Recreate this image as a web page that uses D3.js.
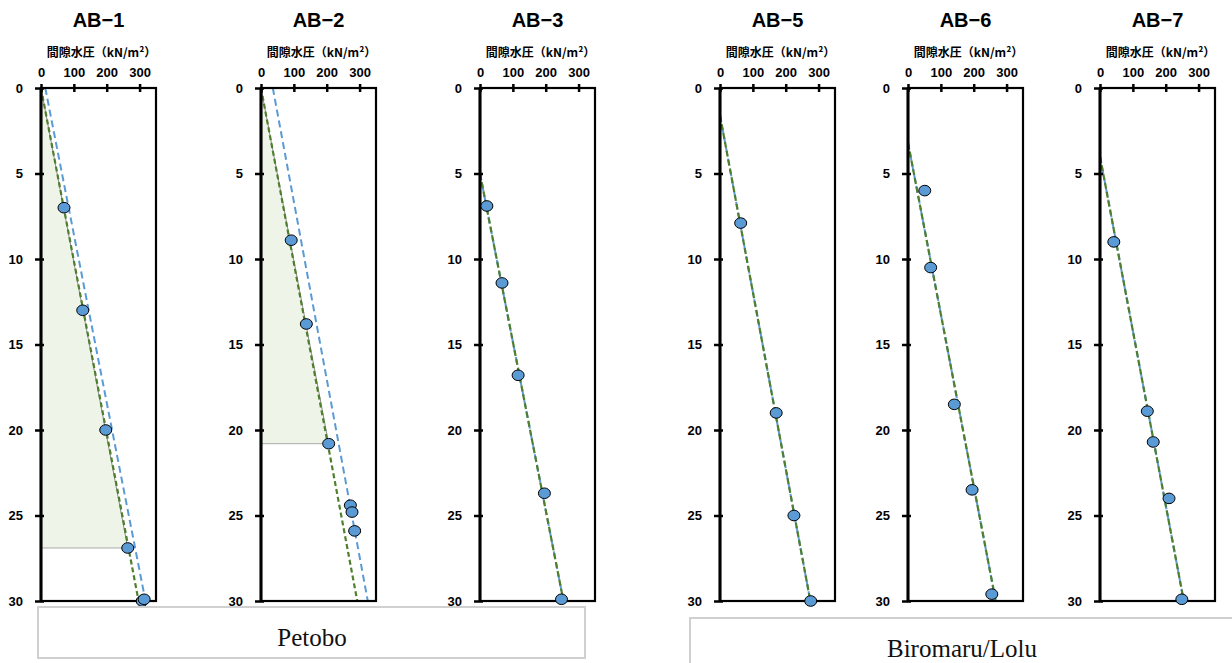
<!DOCTYPE html>
<html>
<head>
<meta charset="utf-8">
<script src="https://cdn.jsdelivr.net/npm/d3@7"></script>
<style>
  body { margin: 0; background: #fff; }
</style>
</head>
<body>
<div id="chart"></div>
<script>
var svgWidth = 1232;
var svgHeight = 663;

// data
var panelNames = ["AB-1", "AB-2", "AB-3", "AB-5", "AB-6", "AB-7"];
var depthTicks = [0, 5, 10, 15, 20, 25, 30];
var pressureTicks = [0, 100, 200, 300];
var axisLabel = "間隙水圧（kN/m²）";
var groupNames = ["Petobo", "Biromaru/Lolu"];

// measured points: depth (m), pore pressure (kN/m2)
var ab1Depth = [7.0, 13.0, 20.0, 26.9, 30.0, 29.9];
var ab1Pressure = [70, 127, 197, 264, 308, 314];
var ab2Depth = [8.9, 13.8, 20.8, 24.4, 24.8, 25.9];
var ab2Pressure = [92, 138, 206, 272, 277, 285];
var ab3Depth = [6.9, 11.4, 16.8, 23.7, 29.9];
var ab3Pressure = [21, 67, 116, 196, 248];
var ab5Depth = [7.9, 19.0, 25.0, 30.0];
var ab5Pressure = [63, 171, 225, 276];
var ab6Depth = [6.0, 10.5, 18.5, 23.5, 29.6];
var ab6Pressure = [51, 69, 141, 195, 255];
var ab7Depth = [9.0, 18.9, 20.7, 24.0, 29.9];
var ab7Pressure = [42, 144, 162, 210, 249];

// trend lines as [depth, pressure] end points
var greenLines = [
  [[0, 0], [30, 297]],
  [[0, 0], [30, 293]],
  [[5.0, 0], [30, 254]],
  [[1.6, 0], [30, 275]],
  [[3.2, 0], [30, 267]],
  [[4.0, 0], [30, 255]]
];
var blueLines = [
  [[0, 13], [30, 318]],
  [[0, 36], [30, 325]],
  [[5.0, 0], [30, 254]],
  [[1.6, 0], [30, 275]],
  [[3.2, 0], [30, 267]],
  [[4.0, 0], [30, 255]]
];
// shaded wedge (only Petobo AB-1, AB-2)
var shadeAreas = [
  [[0, 0], [26.9, 264], [26.9, 0]],
  [[0, 0], [20.8, 206], [20.8, 0]],
  null, null, null, null
];

var pointDepths = [ab1Depth, ab2Depth, ab3Depth, ab5Depth, ab6Depth, ab7Depth];
var pointPressures = [ab1Pressure, ab2Pressure, ab3Pressure, ab5Pressure, ab6Pressure, ab7Pressure];

// layout
var panelLeft = [41, 261, 480, 720, 908, 1100];
var panelWidth = 115;
var plotTop = 88;
var plotBottom = 601;
var sans = "'Liberation Sans', Arial, sans-serif";

var svg = d3.select("#chart").append("svg")
  .attr("width", svgWidth)
  .attr("height", svgHeight);

var yScale = d3.scaleLinear().domain([0, 30]).range([plotTop, plotBottom]);

panelNames.forEach(function(name, i) {
  var left = panelLeft[i];
  var xScale = d3.scaleLinear().domain([0, 350]).range([left, left + panelWidth]);
  var g = svg.append("g").attr("class", "panel");
  var cx = left + panelWidth / 2;

  // title
  g.append("text")
    .attr("x", cx)
    .attr("y", 27)
    .attr("text-anchor", "middle")
    .style("font-family", sans)
    .style("font-size", "20px")
    .style("font-weight", "bold")
    .text(name.replace("-", "\u2212"));

  g.append("text")
    .attr("x", cx + 3)
    .attr("y", 57)
    .attr("text-anchor", "middle")
    .style("font-family", "'Noto Sans CJK JP', sans-serif")
    .style("font-size", "12px")
    .style("font-weight", "bold")
    .text(axisLabel);

  var line = d3.line().x(d => xScale(d[1])).y(d => yScale(d[0]));

  // shaded wedge
  var shade = shadeAreas[i];
  if (shade) {
    g.append("path")
      .attr("d", line(shade) + "Z")
      .attr("fill", "#eef5e8")
      .attr("stroke", "none");
    g.append("path")
      .attr("d", line(shade.slice(0, 2)))
      .attr("fill", "none")
      .attr("stroke", "#888")
      .attr("stroke-width", 1);
    g.append("path")
      .attr("d", line(shade.slice(1)))
      .attr("fill", "none")
      .attr("stroke", "#aaa")
      .attr("stroke-width", 1);
  }

  // blue dashed line
  g.append("path")
    .attr("d", line(blueLines[i]))
    .attr("fill", "none")
    .attr("stroke", "#5b9bd5")
    .attr("stroke-width", 2)
    .attr("stroke-dasharray", "7,4");

  // green dashed line
  g.append("path")
    .attr("d", line(greenLines[i]))
    .attr("fill", "none")
    .attr("stroke", "#4f7f2e")
    .attr("stroke-width", 2.2)
    .attr("stroke-dasharray", i < 2 ? "5,3" : "6,3");

  // frame
  g.append("rect")
    .attr("x", left)
    .attr("y", plotTop)
    .attr("width", panelWidth)
    .attr("height", plotBottom - plotTop)
    .attr("fill", "none")
    .attr("stroke", "#000")
    .attr("stroke-width", 2.2);
  g.append("line")
    .attr("x1", left).attr("x2", left)
    .attr("y1", plotTop).attr("y2", plotBottom)
    .attr("stroke", "#000").attr("stroke-width", 3);

  // top axis
  var xAxis = d3.axisTop(xScale).tickValues(pressureTicks).tickSize(0).tickPadding(11);
  var xg = g.append("g").attr("transform", `translate(0, ${plotTop})`).call(xAxis);
  xg.select(".domain").remove();
  xg.selectAll("text")
    .style("font-family", sans).style("font-size", "13px").style("font-weight", "bold")
    .attr("fill", "#000");
  xg.selectAll(".tick").append("line")
    .attr("y1", -4).attr("y2", 4)
    .attr("stroke", "#000").attr("stroke-width", 2.5);

  // left axis
  var yAxis = d3.axisLeft(yScale).tickValues(depthTicks).tickSize(0).tickPadding(18);
  var yg = g.append("g").attr("transform", `translate(${left}, 0)`).call(yAxis);
  yg.select(".domain").remove();
  yg.selectAll("text")
    .style("font-family", sans).style("font-size", "13px").style("font-weight", "bold")
    .attr("fill", "#000");
  yg.selectAll(".tick").append("line")
    .attr("x1", -6).attr("x2", 3)
    .attr("stroke", "#000").attr("stroke-width", 2.5);

  // points
  var pts = pointDepths[i].map((d, k) => ({depth: d, pressure: pointPressures[i][k]}));
  g.selectAll("ellipse.pt")
    .data(pts)
    .enter()
    .append("ellipse")
    .attr("class", "pt")
    .attr("cx", d => xScale(d.pressure))
    .attr("cy", d => yScale(d.depth))
    .attr("rx", 6)
    .attr("ry", 5.3)
    .attr("fill", "#5b9bd5")
    .attr("stroke", "#000")
    .attr("stroke-width", 1);
});

// site boxes
var boxes = [
  {x: 38, y: 607, w: 547, h: 51},
  {x: 690, y: 618, w: 560, h: 60}
];
groupNames.forEach(function(name, i) {
  var b = boxes[i];
  svg.append("rect")
    .attr("x", b.x).attr("y", b.y)
    .attr("width", b.w).attr("height", b.h)
    .attr("fill", "#fff")
    .attr("stroke", "#d0d0d0")
    .attr("stroke-width", 2);
  svg.append("text")
    .attr("x", i === 0 ? 312 : 962)
    .attr("y", i === 0 ? 646 : 657)
    .attr("text-anchor", "middle")
    .style("font-family", "'Liberation Serif', 'DejaVu Serif', serif")
    .style("font-size", "25px")
    .attr("fill", "#111")
    .text(name);
});
</script>
</body>
</html>
